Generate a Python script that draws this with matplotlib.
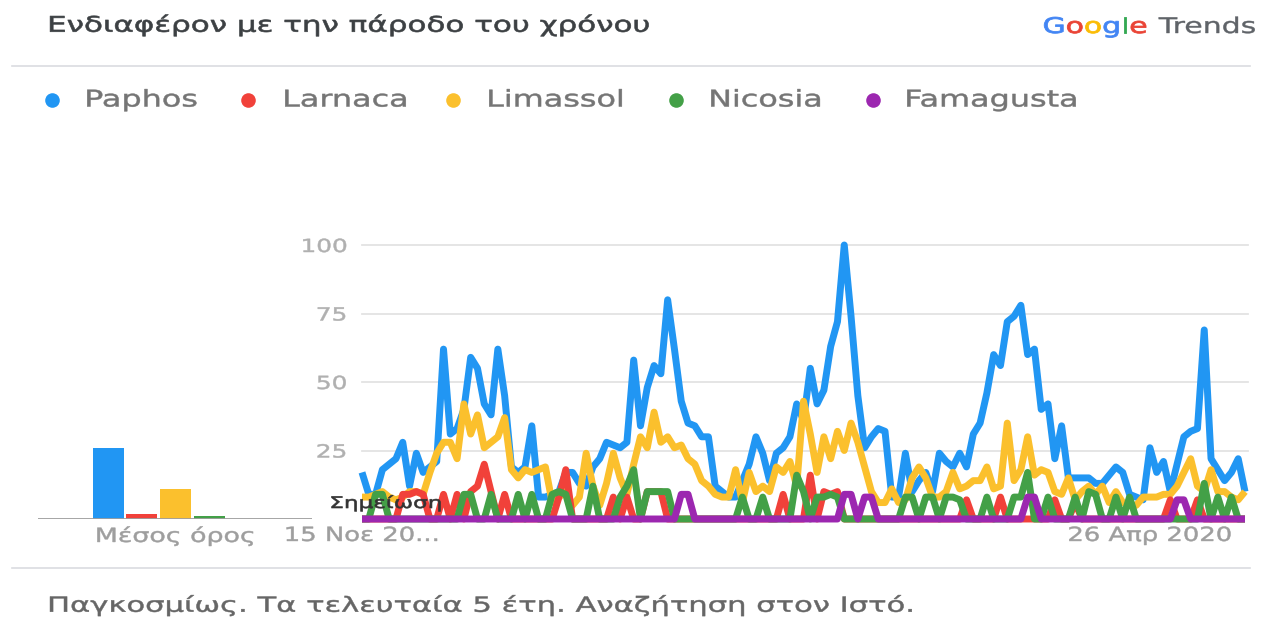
import numpy as np
import pandas as pd
import matplotlib
matplotlib.use("Agg")
import matplotlib.pyplot as plt
from matplotlib.patheffects import AbstractPathEffect
from matplotlib.transforms import Affine2D

# ---------------- data ----------------
series_names = ["Paphos", "Larnaca", "Limassol", "Nicosia", "Famagusta"]
series_colors = ["#2196f3", "#f1413a", "#fbc02d", "#43a047", "#9c27b0"]

dates = pd.date_range("2015-11-15", periods=131, freq="14D")

paphos = [17, 9, 9, 18, 20, 22, 28, 12, 24, 17, 19, 21, 62, 31, 33, 40, 59, 55, 42, 38,
          62, 45, 19, 17, 19, 34, 8, 8, 9, 10, 17, 17, 13, 12, 19, 22, 28, 27, 26, 28,
          58, 34, 48, 56, 53, 80, 62, 43, 35, 34, 30, 30, 12, 10, 8, 8, 14, 20, 30, 24,
          14, 24, 26, 30, 42, 36, 55, 42, 47, 63, 72, 100, 74, 45, 26, 30, 33, 32, 8, 8,
          24, 10, 14, 17, 10, 24, 21, 19, 24, 19, 31, 35, 46, 60, 56, 72, 74, 78, 60, 62,
          40, 42, 22, 34, 15, 15, 15, 15, 13, 13, 16, 19, 17, 9, 8, 7, 26, 17, 21, 10,
          20, 30, 32, 33, 69, 22, 18, 14, 17, 22, 10]

limassol = [8, 8, 9, 10, 8, 7, 8, 10, 10, 9, 17, 24, 28, 28, 22, 42, 31, 38, 26, 28,
            30, 37, 18, 15, 18, 17, 18, 19, 6, 8, 10, 5, 8, 24, 12, 5, 13, 24, 15, 9,
            20, 30, 26, 39, 28, 30, 26, 27, 22, 20, 14, 12, 9, 8, 8, 18, 6, 17, 10, 12,
            10, 19, 17, 21, 12, 43, 31, 17, 30, 22, 32, 25, 35, 28, 19, 10, 6, 6, 11, 6,
            7, 15, 19, 15, 8, 8, 10, 17, 11, 12, 14, 14, 19, 11, 12, 35, 14, 18, 30, 16,
            18, 17, 10, 9, 15, 7, 10, 12, 9, 12, 6, 10, 6, 5, 5, 8, 8, 8, 9, 9,
            12, 17, 22, 12, 10, 18, 10, 10, 8, 7, 10]

larnaca = [0, 0, 0, 0, 0, 0, 9, 9, 10, 9, 0, 0, 9, 0, 9, 0, 10, 12, 20, 10,
           0, 9, 0, 0, 0, 0, 0, 0, 0, 8, 18, 0, 0, 0, 0, 0, 0, 8, 0, 8,
           0, 0, 10, 10, 10, 0, 0, 0, 0, 0, 0, 0, 0, 0, 0, 0, 0, 0, 0, 0,
           0, 0, 9, 0, 0, 0, 16, 0, 10, 9, 10, 0, 0, 0, 0, 0, 0, 0, 0, 0,
           0, 0, 0, 0, 0, 0, 0, 0, 0, 7, 0, 0, 0, 0, 8, 0, 0, 0, 0, 0,
           0, 0, 7, 0, 0, 6, 0, 0, 0, 0, 0, 0, 0, 0, 0, 0, 0, 0, 0, 7,
           0, 0, 0, 7, 0, 0, 0, 0, 0, 0, 0]

nicosia = [0, 0, 9, 9, 0, 0, 0, 0, 0, 0, 0, 0, 0, 0, 0, 9, 9, 0, 0, 9,
           0, 0, 0, 9, 0, 9, 0, 0, 9, 10, 9, 0, 0, 0, 12, 0, 0, 0, 8, 12,
           18, 0, 10, 10, 10, 10, 0, 0, 0, 0, 0, 0, 0, 0, 0, 0, 8, 0, 0, 8,
           0, 0, 0, 0, 16, 10, 0, 8, 8, 9, 8, 0, 0, 0, 0, 0, 0, 0, 0, 0,
           8, 8, 0, 8, 8, 0, 8, 8, 7, 0, 0, 0, 8, 0, 0, 0, 8, 8, 17, 0,
           0, 8, 0, 0, 0, 8, 0, 10, 9, 0, 0, 8, 0, 8, 0, 0, 0, 0, 0, 0,
           0, 0, 0, 0, 13, 0, 8, 0, 8, 0, 0]

famagusta = ([0] * 47 + [9, 9] + [0] * 22 + [9, 9, 0, 8, 8] + [0] * 22 + [8, 8]
             + [0] * 20 + [7, 7] + [0] * 9)

averages = [26, 2, 11, 1, 0]

title_text = "Ενδιαφέρον με την πάροδο του χρόνου"
footer_text = "Παγκοσμίως. Τα τελευταία 5 έτη. Αναζήτηση στον Ιστό."
avg_label = "Μέσος όρος"
note_text = "Σημείωση"
yticks = [25, 50, 75, 100]
xtick_dates = [pd.Timestamp("2015-11-15"), pd.Timestamp("2020-04-26")]
xtick_labels = ["15 Νοε 20...", "26 Απρ 2020"]


# ---------------- helpers ----------------
class HStretch(AbstractPathEffect):
    """Draw text glyphs stretched horizontally about an anchor (text stays a Text)."""

    def __init__(self, sx=1.4, anchor="left", stroke=0.35):
        super().__init__()
        self.sx = sx
        self.anchor = anchor
        self.stroke = stroke

    def draw_path(self, renderer, gc, tpath, affine, rgbFace=None):
        ext = tpath.get_extents(affine)
        if self.anchor == "left":
            x0 = ext.x0
        elif self.anchor == "right":
            x0 = ext.x1
        else:
            x0 = 0.5 * (ext.x0 + ext.x1)
        tr = affine + Affine2D().translate(-x0, 0).scale(self.sx, 1).translate(x0, 0)
        gc0 = renderer.new_gc()
        gc0.copy_properties(gc)
        if self.stroke and rgbFace is not None:
            gc0.set_linewidth(self.stroke)
            gc0.set_foreground(rgbFace)
        renderer.draw_path(gc0, tpath, tr, rgbFace)
        gc0.restore()


W, H = 1262, 631
fig = plt.figure(figsize=(W / 100, H / 100), dpi=100)
fig.patch.set_facecolor("white")
plt.rcParams["font.family"] = ["DejaVu Sans"]


def fx(px):
    return px / W


def fy(py):
    return 1 - py / H


# title
fig.text(fx(48), fy(25), title_text, fontsize=15.5, color="#3c4043", va="center",
         ha="left", path_effects=[HStretch(1.44, "left", 0.45)])

# Google Trends logo
renderer = fig.canvas.get_renderer()
x0 = 1043
logo = [("G", "#4285f4"), ("o", "#ea4335"), ("o", "#fbbc05"), ("g", "#4285f4"),
        ("l", "#34a853"), ("e", "#ea4335"), (" Trends", "#5f6368")]
for ch, col in logo:
    t = fig.text(fx(x0), fy(27), ch, fontsize=15.5, color=col, va="center", ha="left",
                 path_effects=[HStretch(1.39, "left", 0.6 if len(ch) == 1 else 0.3)])
    bb = t.get_window_extent(renderer)
    if ch.startswith(" "):
        t.set_x(fx(x0 + 4))
    x0 += bb.width * 1.39

# separators
fig.add_artist(plt.Line2D([fx(12), fx(1250)], [fy(66), fy(66)], color="#dadce0", lw=1.2))
fig.add_artist(plt.Line2D([fx(12), fx(1250)], [fy(568), fy(568)], color="#dadce0", lw=1.2))

# legend
dot_x = [52, 248, 453, 676, 873]
txt_x = [85, 283, 487, 709, 905]
for name, col, dx, tx in zip(series_names, series_colors, dot_x, txt_x):
    fig.add_artist(plt.Line2D([fx(dx)], [fy(100)], marker="o", markersize=10.5,
                              color=col, markeredgewidth=0, linestyle="none"))
    fig.text(fx(tx), fy(100), name, fontsize=16.5, color="#757575", va="center",
             ha="left", path_effects=[HStretch(1.39, "left")])

# footer
fig.text(fx(48), fy(605), footer_text, fontsize=15, color="#666666", va="center",
         ha="left", path_effects=[HStretch(1.47, "left")])

# ---------------- average bars ----------------
bottom_frac = fy(519)
top_frac = fy(245)
axb = fig.add_axes([fx(38), bottom_frac, fx(312) - fx(38), top_frac - bottom_frac])
pos = np.arange(len(averages))
axb.bar(pos, averages, width=0.92, color=series_colors, zorder=2)
axb.set_xlim(-2.09, 6.06)
axb.set_ylim(0, 100)
axb.axhline(0, color="#9e9e9e", lw=1.3, zorder=3)
for s in axb.spines.values():
    s.set_visible(False)
axb.set_yticks([])
axb.set_xticks([2])
axb.set_xticklabels([avg_label], fontsize=14, color="#9e9e9e")
axb.tick_params(axis="x", length=0, pad=5)
axb.patch.set_alpha(0)
for lab in axb.get_xticklabels():
    lab.set_path_effects([HStretch(1.38, "center")])

# ---------------- main chart ----------------
ax = fig.add_axes([fx(362), bottom_frac, fx(1245) - fx(362), top_frac - bottom_frac])
ax.patch.set_alpha(0)
all_series = [paphos, larnaca, limassol, nicosia, famagusta]
zorders = {"Paphos": 2, "Limassol": 3, "Larnaca": 4, "Nicosia": 5, "Famagusta": 6}
for name, col, vals in zip(series_names, series_colors, all_series):
    ax.plot(dates, vals, color=col, lw=5.0, solid_joinstyle="round",
            solid_capstyle="butt", zorder=zorders[name], clip_on=False)
ax.set_xlim(dates[0], dates[-1])
ax.set_ylim(0, 100)
ax.set_yticks(yticks)
ax.set_yticklabels([str(v) for v in yticks], fontsize=13, color="#b0b0b0")
ax.tick_params(axis="y", length=0, pad=11)
for v in yticks:
    ax.plot([0, 1.003], [v, v], transform=ax.get_yaxis_transform(), color="#e3e3e3",
            lw=1.3, zorder=1, clip_on=False)
ax.set_xticks(xtick_dates)
ax.set_xticklabels(xtick_labels, fontsize=14, color="#9e9e9e")
ax.tick_params(axis="x", length=0, pad=5)
for s in ax.spines.values():
    s.set_visible(False)
for lab in ax.get_yticklabels():
    lab.set_path_effects([HStretch(1.37, "right")])
for lab in ax.get_xticklabels():
    lab.set_path_effects([HStretch(1.33, "center")])

fig.text(fx(330), fy(503), note_text, fontsize=11.5, color="#333333", va="center",
         ha="left", zorder=10, path_effects=[HStretch(1.45, "left", 0.45)])

fig.savefig("out.png", dpi=100, facecolor="white")
